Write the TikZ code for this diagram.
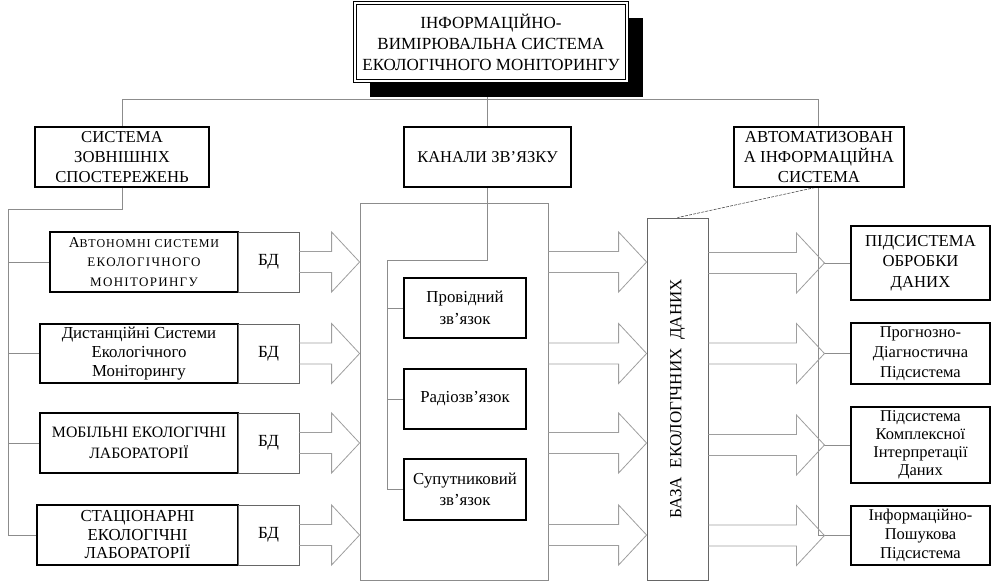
\documentclass[tikz,border=0pt]{standalone}
\usepackage{fontspec}
\setmainfont{Liberation Serif}
\usetikzlibrary{calc,backgrounds}
\definecolor{lineg}{gray}{0.55}
\definecolor{arrg}{gray}{0.62}
\definecolor{boxg}{gray}{0.4}
\newcommand\blkarrow[2]{%
  \draw[blockarr] let \p1=(#1), \p2=(#2) in
    (\x1,\y1+10.5pt) -- (\x2-28pt,\y1+10.5pt) -- (\x2-28pt,\y1+30pt) -- (\x2,\y1)
    -- (\x2-28pt,\y1-30pt) -- (\x2-28pt,\y1-10.5pt) -- (\x1,\y1-10.5pt);}
\begin{document}
\begin{tikzpicture}[x=1pt,y=-1pt,
  box/.style={draw=black, line width=1.1pt, fill=white, align=center, inner sep=0pt,
    font=\fontsize{16.5}{19.5}\selectfont},
  bdbox/.style={draw=boxg, line width=0.8pt, fill=white, inner sep=0pt,
    minimum width=61pt, minimum height=60pt, font=\fontsize{17}{19}\selectfont},
  rbox/.style={box, minimum width=139pt, font=\fontsize{16.5}{20}\selectfont},
  inbox/.style={box, minimum width=122pt, minimum height=60pt, font=\fontsize{16.8}{21.5}\selectfont},
  conn/.style={draw=lineg, line width=0.8pt},
  blockarr/.style={draw=arrg, line width=0.8pt},
  ]
\useasboundingbox (0,0) rectangle (992,584);

% top box
\node[box, line width=0.8pt, double=white, double distance=2pt,
  minimum width=272pt, minimum height=78pt, font=\fontsize{17}{21}\selectfont]
  (top) at (491,42) {ІНФОРМАЦІЙНО-\\ВИМІРЮВАЛЬНА СИСТЕМА\\ЕКОЛОГІЧНОГО МОНІТОРИНГУ};

% second level
\node[box, minimum width=174pt, minimum height=60pt, font=\fontsize{16.7}{20}\selectfont]
  (sys) at (122,157) {СИСТЕМА\\ЗОВНІШНІХ\\СПОСТЕРЕЖЕНЬ};
\node[box, minimum width=167pt, minimum height=60pt, font=\fontsize{16.5}{20}\selectfont]
  (kan) at (487.5,157) {КАНАЛИ ЗВ'ЯЗКУ};
\node[box, minimum width=170pt, minimum height=60pt, font=\fontsize{16.8}{20}\selectfont]
  (avto) at (819,157) {АВТОМАТИЗОВАН\\А ІНФОРМАЦІЙНА\\СИСТЕМА};

% left column
\node[box, minimum width=188pt, minimum height=60pt, font=\fontsize{12}{19.5}\selectfont]
  (l1) at (144,262) {{\fontsize{15}{19.5}\selectfont А}\addfontfeature{LetterSpace=8}ВТОНОМНІ СИСТЕМИ\\
  \fontsize{13}{19.5}\selectfont\addfontfeature{LetterSpace=10}ЕКОЛОГІЧНОГО\\
  \fontsize{13}{19.5}\selectfont\addfontfeature{LetterSpace=10}МОНІТОРИНГУ};
\node[bdbox] (bd1) at (268.5,262) {БД};
\node[box, minimum width=198pt, minimum height=59pt, font=\fontsize{16.8}{19}\selectfont]
  (l2) at (139,353.5) {Дистанційні Системи\\Екологічного\\Моніторингу};
\node[bdbox, minimum height=59pt] (bd2) at (268.5,353.5) {БД};
\node[box, minimum width=198pt, minimum height=60pt, font=\fontsize{15.8}{21}\selectfont]
  (l3) at (139,443) {МОБІЛЬНІ ЕКОЛОГІЧНІ\\ЛАБОРАТОРІЇ};
\node[bdbox] (bd3) at (268.5,443) {БД};
\node[box, minimum width=201pt, minimum height=60pt, font=\fontsize{16.8}{18.5}\selectfont]
  (l4) at (137.5,535) {СТАЦІОНАРНІ\\ЕКОЛОГІЧНІ\\ЛАБОРАТОРІЇ};
\node[bdbox] (bd4) at (268.5,535) {БД};

% middle block
\node[draw=lineg, line width=0.8pt, minimum width=188pt, minimum height=377pt, inner sep=0pt]
  (mid) at (454,391.5) {};
\node[inbox] (p1) at (465,308) {Провідний\\зв'язок};
\node[inbox] (p2) at (465,399) {Радіозв'язок};
\node[inbox, minimum height=61pt] (p3) at (465,489.5) {Супутниковий\\зв'язок};

% database
\node[draw=boxg, line width=0.8pt, minimum width=61pt, minimum height=362pt, inner sep=0pt]
  (baza) at (677.5,399) {};
\node[rotate=90, font=\fontsize{17}{19}\selectfont] (bazat) at (baza.center)
  {БАЗА~~ЕКОЛОГІЧНИХ~~ДАНИХ};

% right column
\node[rbox, minimum height=74pt, font=\fontsize{16.7}{20.5}\selectfont] (r1) at (920.5,263) {ПІДСИСТЕМА\\ОБРОБКИ\\ДАНИХ};
\node[rbox, minimum height=61pt] (r2) at (920.5,353.5) {Прогнозно-\\Діагностична\\Підсистема};
\node[rbox, minimum height=76pt, font=\fontsize{16.5}{18}\selectfont] (r3) at (920.5,445) {Підсистема\\Комплексної\\Інтерпретації\\Даних};
\node[rbox, minimum height=59pt, font=\fontsize{16.5}{19}\selectfont] (r4) at (920.5,535.5) {Інформаційно-\\Пошукова\\Підсистема};

% coordinates
\coordinate (busR) at (818,99);
\coordinate (lb) at (8,209);
\coordinate (kb) at (387,260);
\coordinate (t1) at ($(r1.west)+(-26,0)$);
\coordinate (t2) at ($(r2.west)+(-26,0)$);
\coordinate (t3) at ($(r3.west)+(-26,0)$);
\coordinate (t4) at ($(r4.west)+(-26,0)$);

% block arrows
\foreach \i in {1,2,3,4}{
  \blkarrow{bd\i.east}{mid.west |- bd\i.east}
  \blkarrow{mid.east |- bd\i.east}{baza.west |- bd\i.east}
  \blkarrow{baza.east |- t\i}{t\i}
}

\begin{scope}[on background layer]
  % top bus
  \draw[conn] (sys.north) |- (busR) -- (busR |- t4) -- (t4);
  \draw[conn] (top.south -| kan.north) -- (kan.north);
  \foreach \i in {1,2,3,4}{ \draw[conn] (t\i) -- (r\i.west); }
  % left bus
  \draw[conn] (sys.south) |- (lb) -- (lb |- l4.west) -- (l4.west);
  \foreach \i in {1,2,3}{ \draw[conn] (lb |- l\i.west) -- (l\i.west); }
  % channel bus
  \draw[conn] (kan.south) |- (kb) -- (kb |- p3.west) -- (p3.west);
  \foreach \i in {1,2}{ \draw[conn] (kb |- p\i.west) -- (p\i.west); }
  % dashed link
  \draw[draw=black!70, line width=0.6pt, dash pattern=on 3pt off 1.2pt]
    ($(avto.south)+(-4,0)$) -- (baza.north);
  % shadow
  \fill[black] ($(top.south west)+(15,16)$) rectangle ($(top.north east)+(16,15)$);
\end{scope}
\end{tikzpicture}
\end{document}
